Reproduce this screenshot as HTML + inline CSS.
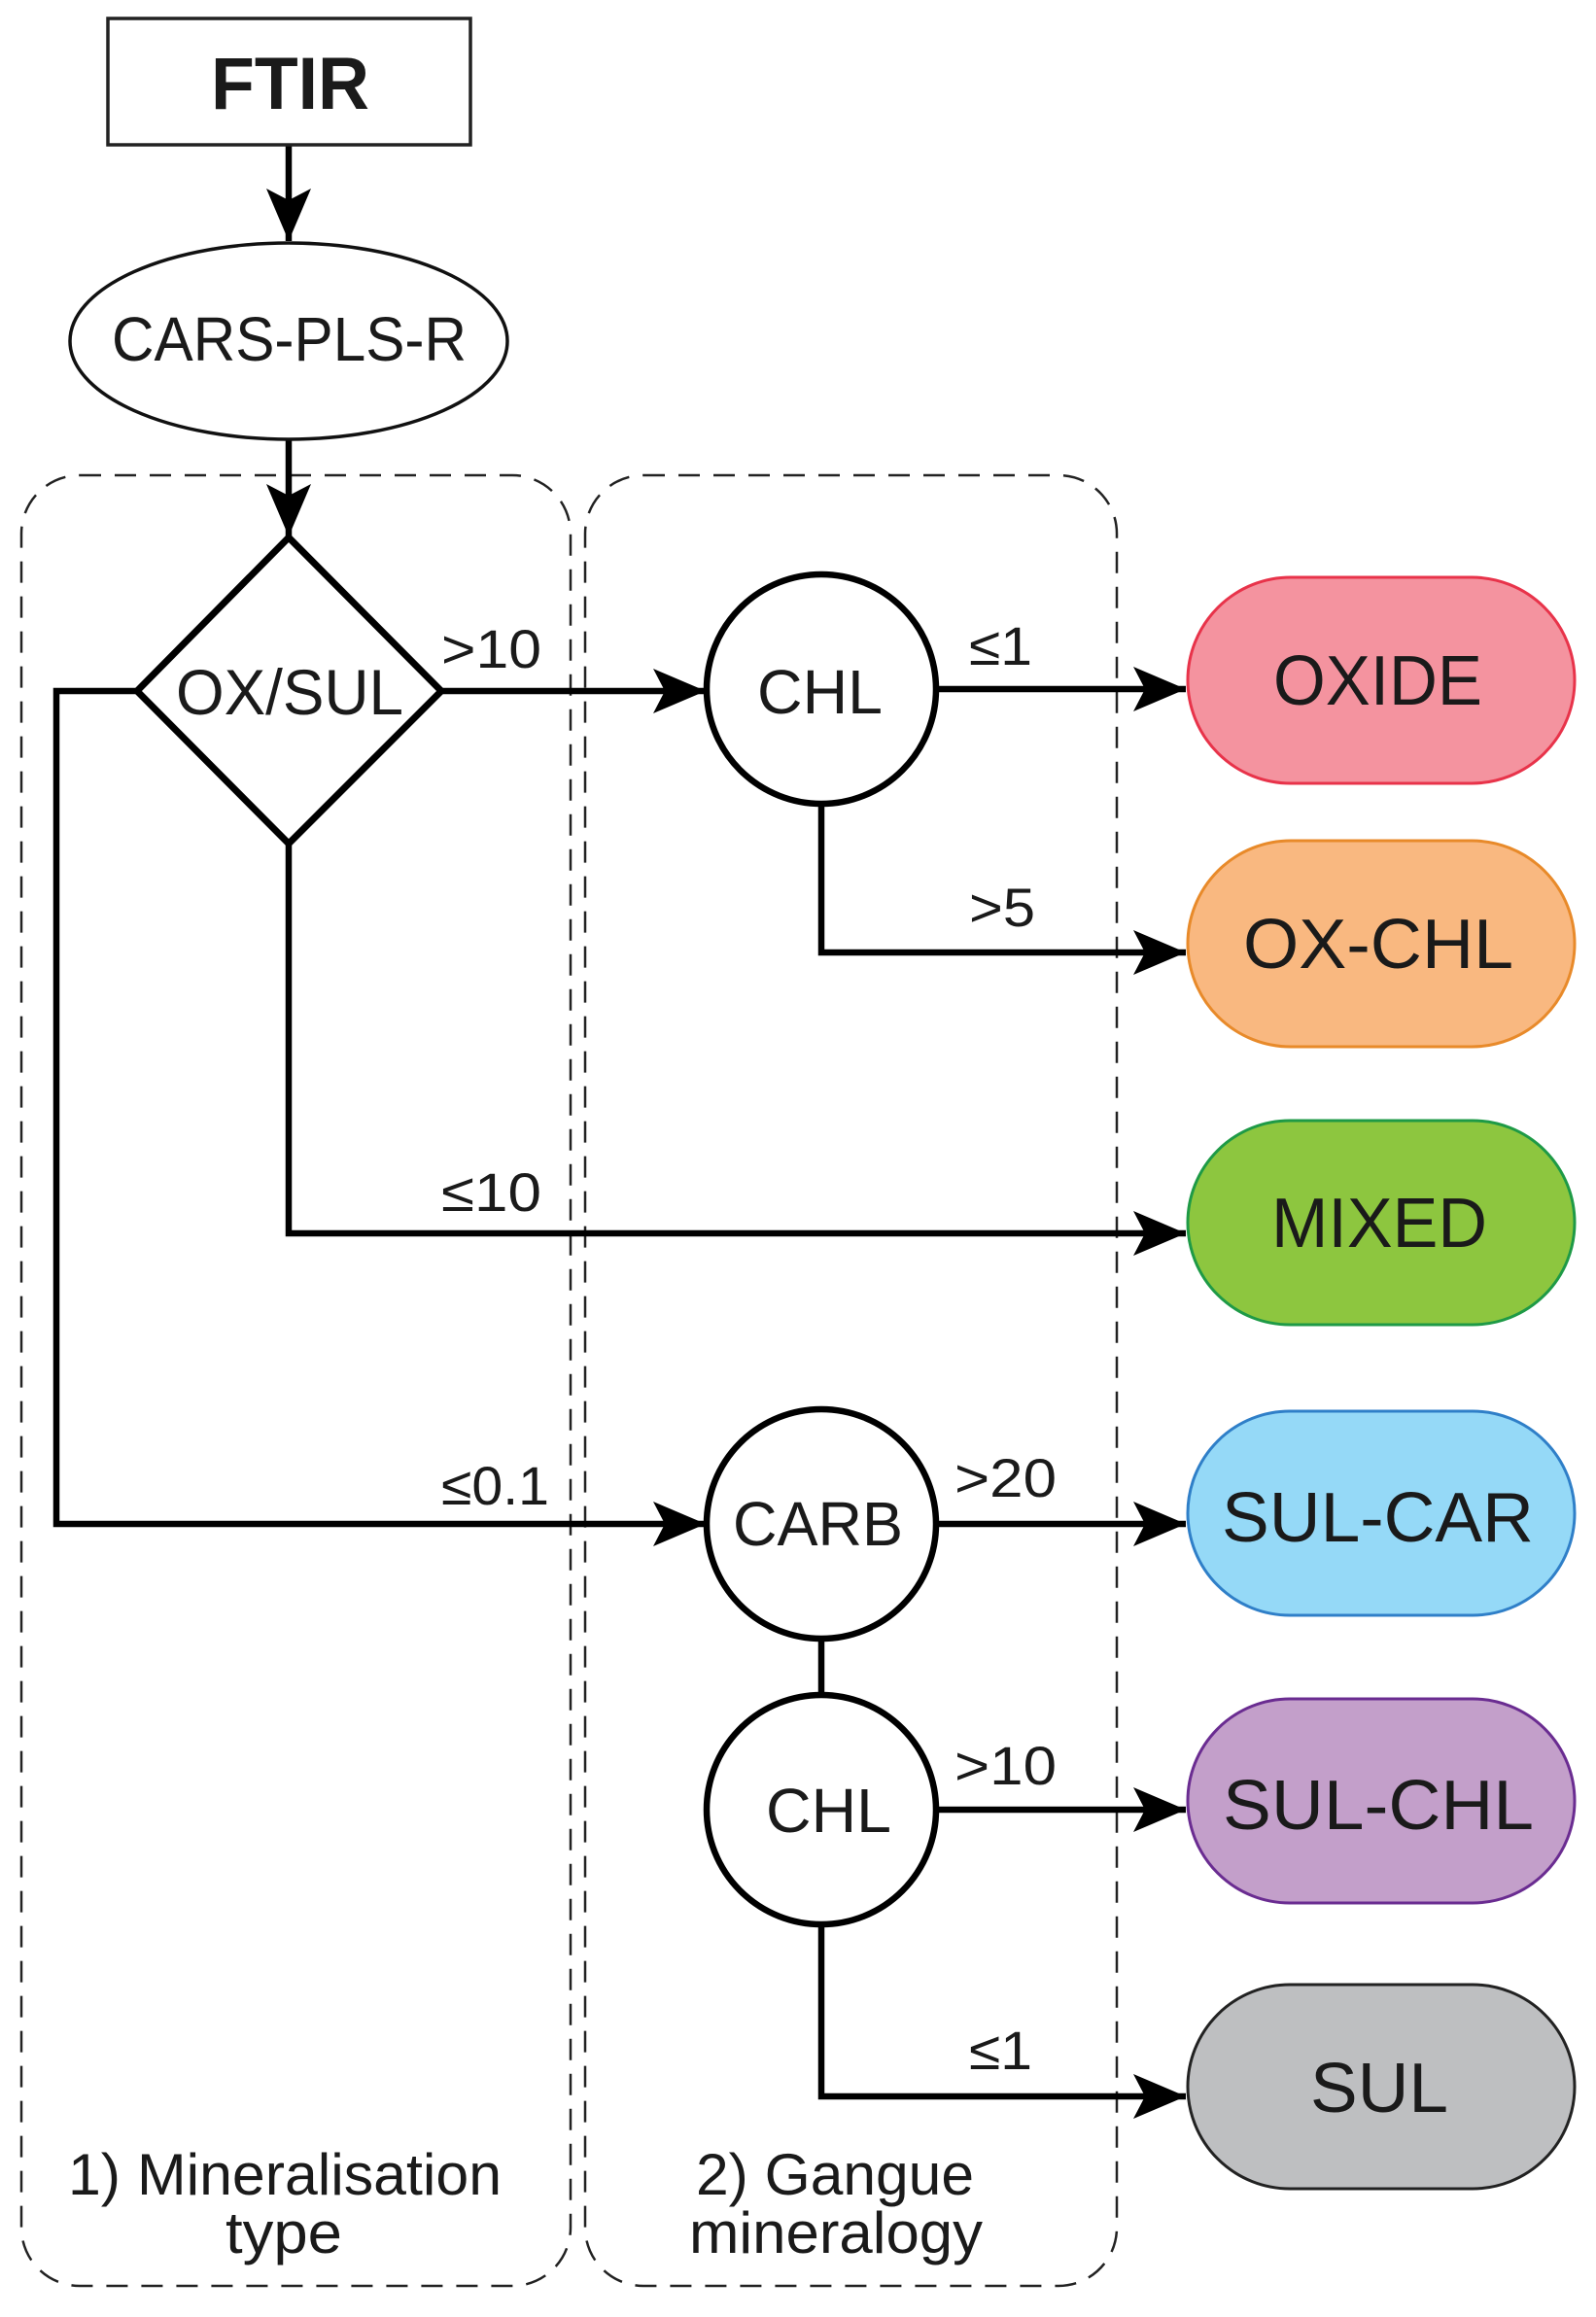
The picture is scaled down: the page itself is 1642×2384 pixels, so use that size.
<!DOCTYPE html>
<html><head><meta charset="utf-8"><style>html,body{margin:0;padding:0;background:#fff}svg{display:block}</style></head>
<body>
<svg width="1642" height="2384" viewBox="0 0 1642 2384" xmlns="http://www.w3.org/2000/svg" font-family="'Liberation Sans Narrow','Liberation Sans',sans-serif" fill="#1a1a1a">
<defs>
<marker id="ar" markerUnits="userSpaceOnUse" markerWidth="56" markerHeight="48" refX="54" refY="23" orient="auto">
<path d="M0,0 L54,23 L0,46 L12,23 Z" fill="#000"/>
</marker>
</defs>
<rect width="1642" height="2384" fill="#fff"/>
<rect x="22" y="489" width="565" height="1863" rx="60" fill="none" stroke="#222" stroke-width="2.5" stroke-dasharray="22,14"/>
<rect x="602" y="489" width="547" height="1863" rx="60" fill="none" stroke="#222" stroke-width="2.5" stroke-dasharray="22,14"/>

<g stroke="#000" stroke-width="6.5" fill="none">
<line x1="297" y1="149" x2="297" y2="248" marker-end="url(#ar)"/>
<line x1="297" y1="453" x2="297" y2="552" marker-end="url(#ar)"/>
<line x1="454" y1="711" x2="726" y2="711" marker-end="url(#ar)"/>
<polyline points="141,711 58,711 58,1568 726,1568" marker-end="url(#ar)"/>
<polyline points="297,868 297,1269 1220,1269" marker-end="url(#ar)"/>
<line x1="963" y1="709" x2="1220" y2="709" marker-end="url(#ar)"/>
<polyline points="845,827 845,980 1220,980" marker-end="url(#ar)"/>
<line x1="963" y1="1568" x2="1220" y2="1568" marker-end="url(#ar)"/>
<line x1="845" y1="1686" x2="845" y2="1744"/>
<line x1="963" y1="1862" x2="1220" y2="1862" marker-end="url(#ar)"/>
<polyline points="845,1980 845,2157 1220,2157" marker-end="url(#ar)"/>
</g>

<rect x="111" y="19" width="373" height="130" fill="#fff" stroke="#222" stroke-width="3.5"/>
<ellipse cx="297" cy="351" rx="225" ry="101" fill="#fff" stroke="#111" stroke-width="3.5"/>
<polygon points="297,553 454,711 297,868 141,711" fill="#fff" stroke="#000" stroke-width="7"/>
<circle cx="845" cy="709" r="118" fill="#fff" stroke="#000" stroke-width="6.5"/>
<circle cx="845" cy="1568" r="118" fill="#fff" stroke="#000" stroke-width="6.5"/>
<circle cx="845" cy="1862" r="118" fill="#fff" stroke="#000" stroke-width="6.5"/>

<rect x="1222" y="594" width="398" height="212" rx="106" fill="#f4939f" stroke="#e8334a" stroke-width="3"/>
<rect x="1222" y="865" width="398" height="212" rx="106" fill="#f9b880" stroke="#e88a2a" stroke-width="3"/>
<rect x="1222" y="1153" width="398" height="210" rx="105" fill="#8dc63f" stroke="#1e9a46" stroke-width="3"/>
<rect x="1222" y="1452" width="398" height="210" rx="105" fill="#95d9f7" stroke="#2f7fc8" stroke-width="3"/>
<rect x="1222" y="1748" width="398" height="210" rx="105" fill="#c39fca" stroke="#6a2c91" stroke-width="3"/>
<rect x="1222" y="2042" width="398" height="210" rx="105" fill="#bebfc1" stroke="#222" stroke-width="3"/>

<g font-family="'Liberation Sans',sans-serif" font-weight="bold"><text x="217" y="112" font-size="76" textLength="163" lengthAdjust="spacingAndGlyphs">FTIR</text></g>
<text x="115" y="371" font-size="64" textLength="365" lengthAdjust="spacingAndGlyphs">CARS-PLS-R</text>
<text x="181" y="735" font-size="66" textLength="234" lengthAdjust="spacingAndGlyphs">OX/SUL</text>
<text x="779" y="734" font-size="64" textLength="129" lengthAdjust="spacingAndGlyphs">CHL</text>
<text x="754" y="1590" font-size="64" textLength="175" lengthAdjust="spacingAndGlyphs">CARB</text>
<text x="788" y="1885" font-size="64" textLength="129" lengthAdjust="spacingAndGlyphs">CHL</text>

<text x="1310" y="725" font-size="72" textLength="215" lengthAdjust="spacingAndGlyphs">OXIDE</text>
<text x="1279" y="996" font-size="72" textLength="278" lengthAdjust="spacingAndGlyphs">OX-CHL</text>
<text x="1308" y="1283" font-size="72" textLength="222" lengthAdjust="spacingAndGlyphs">MIXED</text>
<text x="1257" y="1586" font-size="72" textLength="321" lengthAdjust="spacingAndGlyphs">SUL-CAR</text>
<text x="1258" y="1882" font-size="72" textLength="320" lengthAdjust="spacingAndGlyphs">SUL-CHL</text>
<text x="1348" y="2173" font-size="72" textLength="142" lengthAdjust="spacingAndGlyphs">SUL</text>

<g font-size="56">
<text x="454" y="687" textLength="103" lengthAdjust="spacingAndGlyphs">&gt;10</text>
<text x="997" y="684" textLength="65" lengthAdjust="spacingAndGlyphs">≤1</text>
<text x="997" y="953" textLength="68" lengthAdjust="spacingAndGlyphs">&gt;5</text>
<text x="454" y="1246" textLength="103" lengthAdjust="spacingAndGlyphs">≤10</text>
<text x="454" y="1548" textLength="111" lengthAdjust="spacingAndGlyphs">≤0.1</text>
<text x="982" y="1540" textLength="105" lengthAdjust="spacingAndGlyphs">&gt;20</text>
<text x="982" y="1836" textLength="105" lengthAdjust="spacingAndGlyphs">&gt;10</text>
<text x="997" y="2129" textLength="65" lengthAdjust="spacingAndGlyphs">≤1</text>
</g>

<g font-size="60">
<text x="70" y="2258" textLength="446" lengthAdjust="spacingAndGlyphs">1) Mineralisation</text>
<text x="232" y="2318" textLength="120" lengthAdjust="spacingAndGlyphs">type</text>
<text x="716" y="2258" textLength="286" lengthAdjust="spacingAndGlyphs">2) Gangue</text>
<text x="709" y="2318" textLength="302" lengthAdjust="spacingAndGlyphs">mineralogy</text>
</g>
</svg>
</body></html>
